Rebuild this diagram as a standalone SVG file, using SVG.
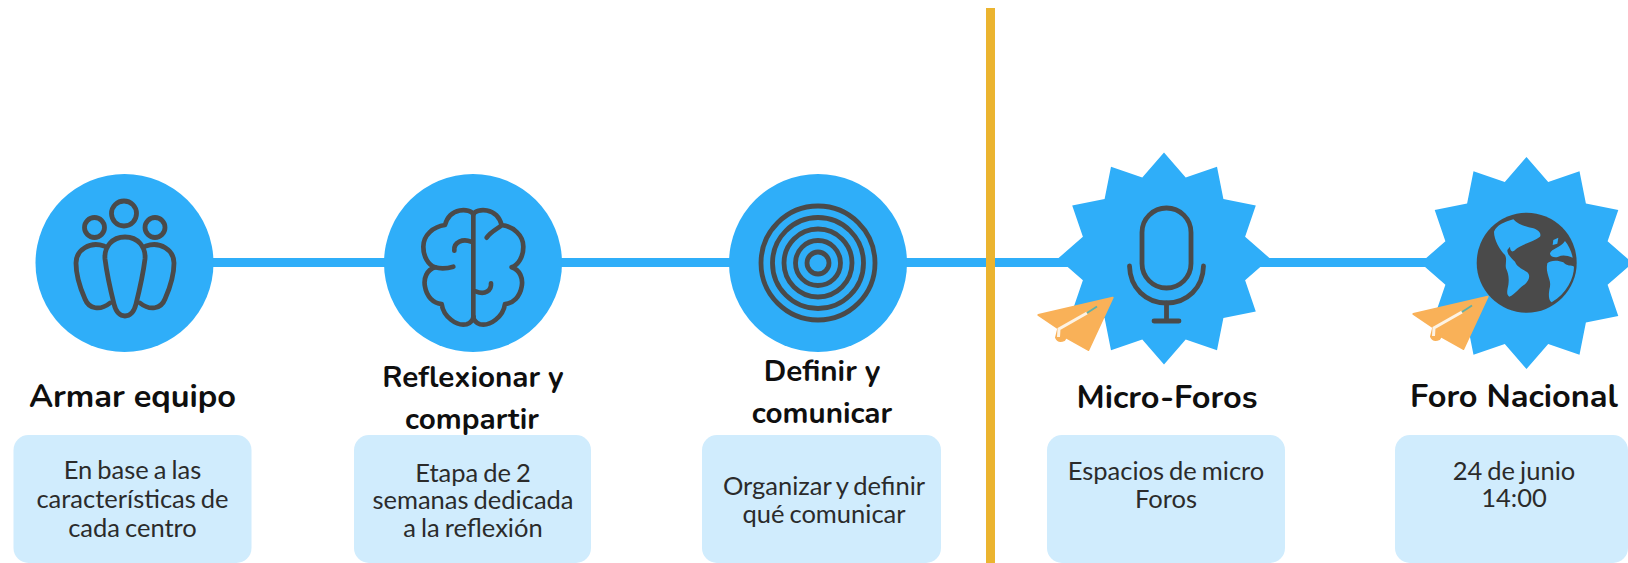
<svg xmlns="http://www.w3.org/2000/svg" xmlns:xlink="http://www.w3.org/1999/xlink" width="1628" height="563" viewBox="0 0 1628 563">
<style>
.bg{fill:#fff}
.disc{fill:#2faef9}
.link{stroke:#2faef9;stroke-width:9;fill:none}
.divider{fill:#ebb42f}
.box{fill:#d0ecfd}
.ico{fill:none;stroke:#4a4a4a;stroke-width:4.8;stroke-linecap:round;stroke-linejoin:round}
.ico3{fill:none;stroke:#4a4a4a;stroke-width:14;stroke-linecap:round;stroke-linejoin:round}
.t{font-family:"Nunito","Lato","Liberation Sans",sans-serif;font-weight:700;font-size:32.5px;fill:#0f0f0f;text-anchor:middle}
.s{font-size:29.6px}
.b{font-family:"Lato","Liberation Sans",sans-serif;font-size:25.5px;word-spacing:-1.5px;fill:#2b2b2b;text-anchor:middle}
</style>
<defs>
<polygon id="star" class="disc" points="0,-106 21.7,-81.1 53,-91.8 59.4,-59.4 91.8,-53 81.1,-21.7 106,0 81.1,21.7 91.8,53 59.4,59.4 53,91.8 21.7,81.1 0,106 -21.7,81.1 -53,91.8 -59.4,59.4 -91.8,53 -81.1,21.7 -106,0 -81.1,-21.7 -91.8,-53 -59.4,-59.4 -53,-91.8 -21.7,-81.1"/>
<g id="plane">
<path d="M248 113 L25 165 L85 205 L78 233 Q85 248 103 240 L108 232 L175 270 Z" transform="translate(1030 260) scale(.3333)" fill="#f9b158" stroke="#f9b158" stroke-width="6" stroke-linejoin="round"/>
<path d="M1058.500 337 L1059 329 L1087 313" fill="none" stroke="#fdf3e4" stroke-width="3"/>
<path d="M1087 313 L1097 306.500" fill="none" stroke="#5fb0a8" stroke-width="1.800"/>
</g>
</defs>
<rect class="bg" width="1628" height="563"/>
<g id="connectors">
<path class="link" d="M200 262.500H1480"/>
</g>
<rect id="divider" class="divider" x="986" y="8" width="9" height="555"/>
<g id="n1">
<circle class="disc" cx="124.500" cy="263" r="89"/>
<g class="ico">
<circle cx="124" cy="213.500" r="12.500"/>
<circle cx="94.500" cy="227.500" r="10"/>
<circle cx="155" cy="227.500" r="10"/>
<path d="M125 237C112 237 104 247 105 259C107 275 111 292 114 304C116 312 120 316 125 316C130 316 134 312 136 304C139 292 143 275 145 259C146 247 138 237 125 237Z"/>
<path d="M104 246C90 241 76 250 76 263C76 275 81 290 85 299C89 309 100 311 110 303"/>
<path d="M146 246C160 241 174 250 174 263C174 275 169 290 165 299C161 309 150 311 140 303"/>
</g>
<rect class="box" x="13.500" y="435" width="238" height="128" rx="15"/>
<text class="t" x="132.500" y="407">Armar equipo</text>
<text class="b" x="132.500" y="479">En base a las</text>
<text class="b" x="132.500" y="508">características de</text>
<text class="b" x="132.500" y="536.500">cada centro</text>
</g>
<g id="n2">
<circle class="disc" cx="473" cy="263" r="89"/>
<g class="ico3" transform="translate(405 190) scale(.3333)">
<path d="M205 72C195 55 135 50 120 105C85 110 55 135 55 170C55 200 70 225 90 232C65 240 55 265 60 290C65 320 85 340 110 342C115 380 155 410 185 403C195 400 205 390 205 380"/>
<path d="M205 72C215 55 275 50 290 105C325 110 355 135 355 170C355 200 340 225 320 232C345 240 355 265 350 290C345 320 325 340 300 342C295 380 255 410 225 403C215 400 205 390 205 380"/>
<path d="M205 72V380"/>
<path d="M145 230C125 236 105 236 90 232"/>
<path d="M148 182C145 155 175 145 198 155"/>
<path d="M245 143C260 122 280 116 290 105"/>
<path d="M258 280C260 302 240 316 212 304"/>
</g>
<rect class="box" x="354" y="435" width="237" height="128" rx="15"/>
<text class="t s" x="473" y="386.500">Reflexionar y</text>
<text class="t s" x="472" y="429">compartir</text>
<text class="b" x="473" y="481.500">Etapa de 2</text>
<text class="b" x="473" y="509">semanas dedicada</text>
<text class="b" x="473" y="537">a la reflexión</text>
</g>
<g id="n3">
<circle class="disc" cx="818" cy="263" r="89"/>
<g class="ico">
<circle cx="818" cy="263" r="57"/>
<circle cx="818" cy="263" r="45.500"/>
<circle cx="818" cy="263" r="34"/>
<circle cx="818" cy="263" r="22.500"/>
<circle cx="818" cy="263" r="11"/>
</g>
<rect class="box" x="702" y="435" width="239" height="128" rx="15"/>
<text class="t s" x="822" y="380.500">Definir y</text>
<text class="t s" x="822" y="423">comunicar</text>
<text class="b" x="824" y="495">Organizar y definir</text>
<text class="b" x="824" y="522.500">qué comunicar</text>
</g>
<g id="n4">
<use xlink:href="#star" href="#star" transform="translate(1164 258.500)"/>
<g class="ico">
<rect x="1142" y="208" width="49" height="80" rx="24.500"/>
<path d="M1129.500 266C1130 288 1146 303 1166.500 303C1187 303 1203 288 1203.500 266"/>
<path d="M1166.500 303V321M1154 321H1179"/>
</g>
<use xlink:href="#plane" href="#plane"/>
<rect class="box" x="1047" y="435" width="238" height="128" rx="15"/>
<text class="t" x="1167" y="408">Micro-Foros</text>
<text class="b" x="1166" y="480">Espacios de micro</text>
<text class="b" x="1166" y="507.500">Foros</text>
</g>
<g id="n5">
<use xlink:href="#star" href="#star" transform="translate(1526.500 263)"/>
<circle cx="1526.700" cy="262.700" r="50" fill="#4a4a4a"/>
<g class="disc" transform="translate(1470 205) scale(.3333)">
<path d="M130 43C105 50 80 60 72 80C72 105 90 135 105 150C112 165 105 175 108 190C115 205 118 220 115 240C112 255 108 270 118 275C135 270 150 245 165 238C178 225 182 212 172 202C155 190 140 185 135 170C125 160 112 150 112 135L120 125C120 135 125 145 135 135C150 120 190 110 210 95C215 85 205 75 190 70C170 65 145 60 130 43Z"/>
<path d="M232 175C240 165 265 165 280 172C290 185 305 180 312 185C312 220 290 265 245 292C235 285 235 265 240 245C245 225 225 205 232 175Z"/>
<path d="M240 145C245 130 270 130 285 108C295 120 305 140 308 158C290 150 275 150 265 155C255 160 240 155 240 145Z"/>
<path d="M250 105L265 98L262 116L248 120Z"/>
</g>
<use xlink:href="#plane" href="#plane" transform="translate(375 -1)"/>
<rect class="box" x="1395" y="435" width="233" height="128" rx="15"/>
<text class="t" x="1514" y="407">Foro Nacional</text>
<text class="b" x="1514" y="479.500">24 de junio</text>
<text class="b" x="1514" y="507">14:00</text>
</g>
</svg>
